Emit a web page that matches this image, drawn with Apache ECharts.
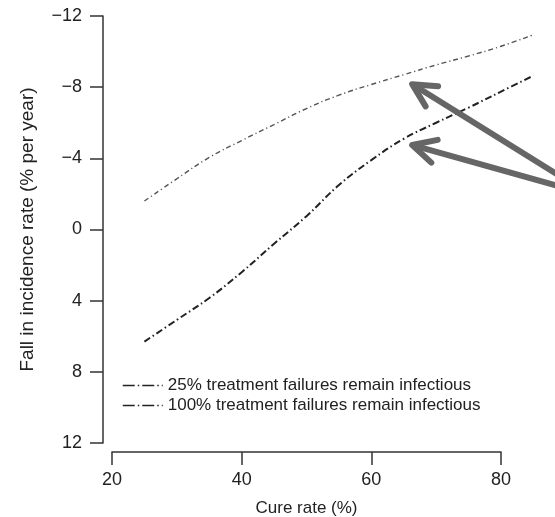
<!DOCTYPE html>
<html>
<head>
<meta charset="utf-8">
<script src="https://cdn.jsdelivr.net/npm/echarts@6/dist/echarts.min.js"></script>
<style>
html,body{margin:0;padding:0;background:#fff;}
#chart{width:555px;height:517px;}
</style>
</head>
<body>
<div id="chart"></div>
<script>
// ---- data ----
const cureRate = [25, 30, 35, 40, 45, 50, 55, 60, 65, 70, 75, 80, 85];
const fall25 = [-1.6, -2.85, -4.05, -5.0, -5.9, -6.8, -7.55, -8.15, -8.7, -9.25, -9.75, -10.3, -10.95];
const fall100 = [6.3, 5.08, 3.85, 2.4, 0.8, -0.75, -2.5, -3.9, -5.1, -6.0, -6.85, -7.75, -8.65];
const seriesNames = ['25% treatment failures remain infectious', '100% treatment failures remain infectious'];
const xTicks = [20, 40, 60, 80];
const xDataMax = 85;
const yTicks = [-12, -8, -4, 0, 4, 8, 12];
const yTickLabels = ['\u221212', '\u22128', '\u22124', '0', '4', '8', '12'];
// arrow annotation (data coordinates)
const arrowHeads = [[66.3, -8.17], [66.3, -4.75]];
const arrowTail = [93.8, -1.94];

const FONT = 'Liberation Sans';
const chart = echarts.init(document.getElementById('chart'), null, {renderer: 'canvas'});

function pairs(xs, ys) { return xs.map((x, i) => [x, ys[i]]); }

const axisLineStyle = {color: '#333', width: 1.5};
// visible axes grid
const G = {left: 112, right: 54, top: 16, bottom: 74, outerBoundsMode: 'none', containLabel: false};
const W = 555, H = 517;
const xMin = xTicks[0], xMax = xTicks[xTicks.length - 1];
const pxPerUnit = (W - G.left - G.right) / (xMax - xMin);
// data grid: same scale, extended to the right so lines can pass 80
const G2 = {left: G.left, top: G.top, bottom: G.bottom, outerBoundsMode: 'none', containLabel: false,
  right: W - (G.left + (xDataMax - xMin) * pxPerUnit)};

chart.setOption({
  animation: false,
  backgroundColor: '#fff',
  grid: [G, G2],
  xAxis: [{
    gridIndex: 0, type: 'value', min: xMin, max: xMax, interval: 20,
    offset: 9,
    axisLine: {show: true, onZero: false, lineStyle: axisLineStyle},
    axisTick: {show: true, length: 13, lineStyle: axisLineStyle},
    axisLabel: {margin: 19, fontSize: 18, fontFamily: FONT, color: '#222'},
    splitLine: {show: false},
    name: 'Cure rate (%)', nameLocation: 'middle', nameGap: 48,
    nameTextStyle: {fontSize: 17, fontFamily: FONT, color: '#222'}
  }, {
    gridIndex: 1, type: 'value', min: xMin, max: xDataMax, show: false
  }],
  yAxis: [{
    gridIndex: 0, type: 'value', min: yTicks[0], max: yTicks[yTicks.length - 1], interval: 4,
    inverse: true, offset: 9,
    axisLine: {show: true, onZero: false, lineStyle: axisLineStyle},
    axisTick: {show: true, length: 13, lineStyle: axisLineStyle},
    axisLabel: {
      margin: 21, fontSize: 18, fontFamily: FONT, color: '#222',
      formatter: v => yTickLabels[yTicks.indexOf(v)]
    },
    splitLine: {show: false},
    name: 'Fall in incidence rate (% per year)', nameLocation: 'middle', nameGap: 66,
    nameTextStyle: {fontSize: 19, fontFamily: FONT, color: '#222'}
  }, {
    gridIndex: 1, type: 'value', min: yTicks[0], max: yTicks[yTicks.length - 1],
    inverse: true, show: false
  }],
  legend: {
    orient: 'vertical', left: 117, top: 372, itemGap: 3,
    itemWidth: 40, itemHeight: 14,
    textStyle: {fontSize: 17, fontFamily: FONT, color: '#222'},
    data: seriesNames.map(n => ({
      name: n,
      itemStyle: {color: 'rgba(0,0,0,0)', borderWidth: 0, opacity: 0},
      lineStyle: {color: '#222', width: 1.5, type: [12, 3, 1.5, 3]}
    }))
  },
  series: [
    {
      name: seriesNames[0], type: 'line', xAxisIndex: 1, yAxisIndex: 1,
      data: pairs(cureRate, fall25),
      smooth: 0.5, showSymbol: false, symbol: 'none', clip: false,
      lineStyle: {color: '#555', width: 1.4, type: [5, 3, 1.2, 3]},
      itemStyle: {color: '#555'}
    },
    {
      name: seriesNames[1], type: 'line', xAxisIndex: 1, yAxisIndex: 1,
      data: pairs(cureRate, fall100),
      smooth: 0.4, showSymbol: false, symbol: 'none', clip: false,
      lineStyle: {color: '#222', width: 2, type: [7, 3, 1.5, 3]},
      itemStyle: {color: '#222'}
    }
  ]
});

// linear data->pixel mapping (extrapolates beyond the axis extent)
function toPx(pt) {
  const a = chart.convertToPixel({gridIndex: 1}, [xMin, yTicks[0]]);
  const b = chart.convertToPixel({gridIndex: 1}, [xDataMax, yTicks[yTicks.length - 1]]);
  const fx = (pt[0] - xMin) / (xDataMax - xMin);
  const fy = (pt[1] - yTicks[0]) / (yTicks[yTicks.length - 1] - yTicks[0]);
  return [a[0] + fx * (b[0] - a[0]), a[1] + fy * (b[1] - a[1])];
}

function drawArrows() {
  const els = [];
  const t = toPx(arrowTail);
  arrowHeads.forEach(h => {
    const p = toPx(h);
    const ang = Math.atan2(t[1] - p[1], t[0] - p[0]);
    const L = 26, a = 27 * Math.PI / 180;
    const style = {stroke: '#666', lineWidth: 6, lineCap: 'round', lineJoin: 'round', fill: null};
    els.push({type: 'polyline', silent: true, z: 100, shape: {points: [[p[0] + 3 * Math.cos(ang), p[1] + 3 * Math.sin(ang)], t]}, style: style});
    els.push({type: 'polyline', silent: true, z: 100, shape: {points: [
      [p[0] + L * Math.cos(ang + a), p[1] + L * Math.sin(ang + a)],
      p,
      [p[0] + L * Math.cos(ang - a), p[1] + L * Math.sin(ang - a)]
    ]}, style: style});
  });
  chart.setOption({graphic: els});
}
drawArrows();
</script>
</body>
</html>
